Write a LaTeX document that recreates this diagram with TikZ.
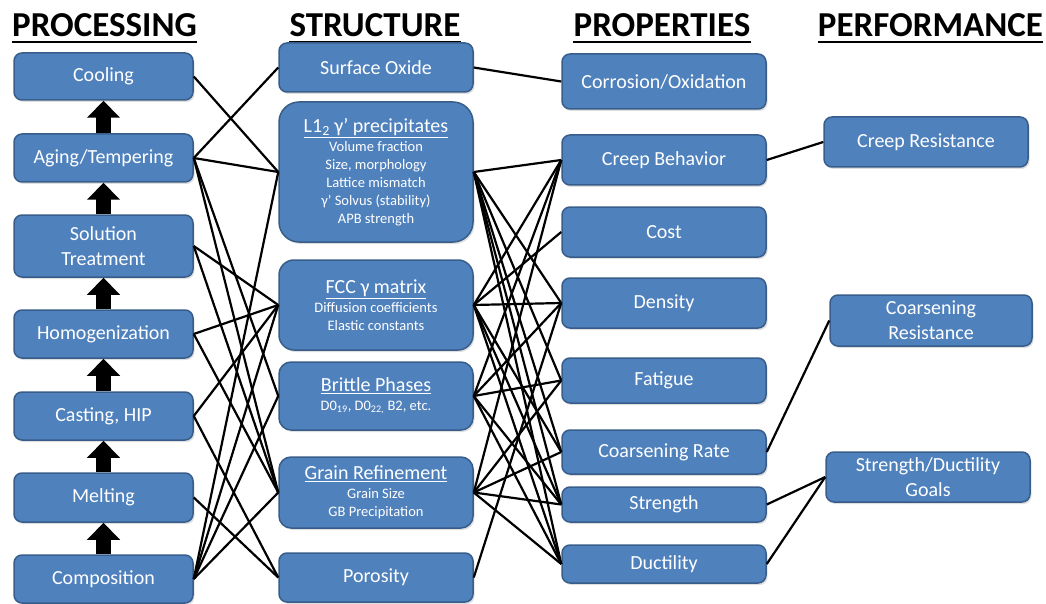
\documentclass[tikz,border=0pt]{standalone}
\usepackage{fontspec}
\setmainfont{Carlito}
\usetikzlibrary{arrows.meta,shadows}
\definecolor{boxfill}{HTML}{4F81BD}
\definecolor{boxedge}{HTML}{385D8A}
\newcommand\ttlfont{\fontsize{20}{22}\selectfont}
\begin{document}
\begin{tikzpicture}[x=1pt,y=-1pt,
  box/.style={draw=boxedge, fill=boxfill, line width=1.5pt, rounded corners=8pt,
    text=white, font=\fontsize{20}{25}\selectfont, align=center, inner sep=0pt,
    drop shadow={opacity=0.25, shadow xshift=1.5pt, shadow yshift=-2pt}},
  subbox/.style={box, font=\fontsize{14.5}{18}\selectfont},
  hdr/.style={font=\fontsize{35}{38}\selectfont\bfseries, inner sep=0pt, anchor=base},
  link/.style={line width=2.2pt, black},
  uparrow/.style={line width=15pt, black, -{Triangle[width=32pt,length=17pt]}},
]
\useasboundingbox (0,0) rectangle (1046,604);

% headers
\node[hdr] (hproc) at (104.5,37) {PROCESSING};
\node[hdr] (hstru) at (375,37) {STRUCTURE};
\node[hdr] (hprop) at (662,37) {PROPERTIES};
\node[hdr] (hperf) at (930.5,37) {PERFORMANCE};
\foreach \h in {hproc,hstru,hprop,hperf}
  \draw[line width=2.5pt] ([yshift=-5pt]\h.base west) -- ([yshift=-5pt]\h.base east);

% processing
\node[box, minimum width=179pt, minimum height=47pt] (cool) at (103.5,76.5) {Cooling};
\node[box, minimum width=179pt, minimum height=48pt] (age)  at (103.5,158) {Aging/Tempering};
\node[box, minimum width=179pt, minimum height=62pt] (sol)  at (103.5,246) {Solution\\Treatment};
\node[box, minimum width=179pt, minimum height=48pt] (hom)  at (103.5,334) {Homogenization};
\node[box, minimum width=179pt, minimum height=48pt] (cast) at (103.5,416) {Casting, HIP};
\node[box, minimum width=179pt, minimum height=49pt] (melt) at (103.5,497.5) {Melting};
\node[box, minimum width=179pt, minimum height=48pt] (comp) at (103.5,579) {Composition};

\draw[uparrow] (comp.north) -- (melt.south);
\draw[uparrow] (melt.north) -- (cast.south);
\draw[uparrow] (cast.north) -- (hom.south);
\draw[uparrow] (hom.north) -- (sol.south);
\draw[uparrow] (sol.north) -- (age.south);
\draw[uparrow] (age.north) -- (cool.south);

% structure
\node[box, minimum width=194pt, minimum height=49pt] (so) at (376,67.5) {Surface Oxide};
\node[subbox, rounded corners=20pt, minimum width=194pt, minimum height=140pt] (l12) at (376,172)
  {{\ttlfont\underline{L1\textsubscript{2} γ’ precipitates}}\\[1pt]Volume fraction\\Size, morphology\\Lattice mismatch\\γ’ Solvus (stability)\\APB strength};
\node[subbox, rounded corners=15pt, minimum width=194pt, minimum height=90pt] (fcc) at (376,305)
  {{\ttlfont\underline{FCC γ matrix}}\\[1pt]Diffusion coefficients\\Elastic constants};
\node[subbox, rounded corners=12pt, minimum width=194pt, minimum height=68pt] (brit) at (376,396)
  {{\ttlfont\underline{Brittle Phases}}\\[1pt]D0\textsubscript{19}, D0\textsubscript{22,} B2, etc.};
\node[subbox, rounded corners=12pt, minimum width=194pt, minimum height=71pt] (grain) at (376,492.5)
  {{\ttlfont\underline{Grain Refinement}}\\[1pt]Grain Size\\GB Precipitation};
\node[box, minimum width=194pt, minimum height=49pt] (por) at (376,577.5) {Porosity};

% properties
\node[box, minimum width=204pt, minimum height=55pt] (corr)  at (664,81.5) {Corrosion/Oxidation};
\node[box, minimum width=204pt, minimum height=50pt] (creep) at (664,160) {Creep Behavior};
\node[box, minimum width=204pt, minimum height=50pt] (cost)  at (664,232) {Cost};
\node[box, minimum width=204pt, minimum height=50pt] (dens)  at (664,303) {Density};
\node[box, minimum width=204pt, minimum height=45pt] (fat)   at (664,380.5) {Fatigue};
\node[box, minimum width=204pt, minimum height=44pt] (coars) at (664,452) {Coarsening Rate};
\node[box, minimum width=204pt, minimum height=35pt] (str)   at (664,504.5) {Strength};
\node[box, minimum width=204pt, minimum height=38pt] (duct)  at (664,564) {Ductility};

% performance
\node[box, minimum width=204pt, minimum height=50pt] (cres)  at (926,142) {Creep Resistance};
\node[box, minimum width=202pt, minimum height=51pt] (cores) at (931,320.5) {Coarsening\\Resistance};
\node[box, minimum width=204pt, minimum height=50pt] (sdg)   at (928,477) {Strength/Ductility\\Goals};

% processing -> structure
\foreach \a/\b in {cool/l12, age/so, age/l12, age/brit, age/grain, sol/fcc, sol/grain,
  hom/fcc, hom/grain, cast/fcc, cast/por, melt/por, comp/l12, comp/fcc, comp/brit, comp/grain}
  \draw[link] (\a.east) -- (\b.west);

% structure -> properties
\foreach \a/\b in {so/corr, l12/creep, l12/dens, l12/fat, l12/coars, l12/str, l12/duct,
  fcc/creep, fcc/cost, fcc/dens, fcc/coars, fcc/str, fcc/duct,
  brit/creep, brit/dens, brit/fat, brit/str, brit/duct,
  grain/creep, grain/fat, grain/coars, grain/str, grain/duct, por/dens}
  \draw[link] (\a.east) -- (\b.west);

% properties -> performance
\foreach \a/\b in {creep/cres, coars/cores, str/sdg, duct/sdg}
  \draw[link] (\a.east) -- (\b.west);
\end{tikzpicture}
\end{document}
